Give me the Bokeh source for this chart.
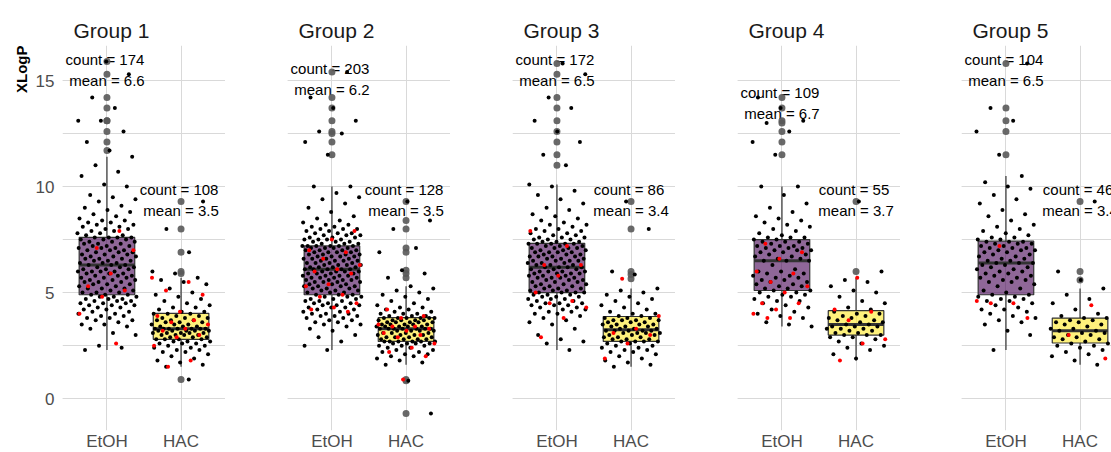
import numpy as np
from bokeh.plotting import figure
from bokeh.layouts import row
from bokeh.models import Range1d, FixedTicker, SingleIntervalTicker, Title
from bokeh.core.properties import value
from bokeh.embed import file_html
from bokeh.resources import INLINE


def vals(s):
    return [float(t) for t in s.split()]


# ---- data -------------------------------------------------------------
groups = ["Group 1", "Group 2", "Group 3", "Group 4", "Group 5"]
solvents = ["EtOH", "HAC"]

etoh_count = [174, 203, 172, 109, 104]
etoh_mean = [6.6, 6.2, 6.5, 6.7, 6.5]
hac_count = [108, 128, 86, 55, 46]
hac_mean = [3.5, 3.5, 3.4, 3.7, 3.4]

# height (XLogP) at which each count/mean note is centred
etoh_label_y = [15.5, 15.05, 15.5, 13.95, 15.5]
hac_label_y = [9.35, 9.35, 9.35, 9.35, 9.35]

# XLogP of every compound; *_red are the highlighted compounds
g1_etoh = vals("""
2.3 2.4 2.5 3.0 3.1 3.3 3.4 3.5 3.5 3.6 3.7 3.7 3.8 3.8 3.9 3.9 4.0 4.0 4.1 4.1
4.2 4.2 4.3 4.3 4.4 4.4 4.4 4.5 4.5 4.5 4.6 4.6 4.6 4.7 4.7 4.7 4.8 4.8 4.8 4.9
4.9 4.9 5.0 5.0 5.0 5.1 5.1 5.2 5.2 5.2 5.3 5.3 5.4 5.4 5.4 5.5 5.5 5.5 5.6 5.6
5.6 5.7 5.7 5.7 5.8 5.8 5.8 5.9 5.9 5.9 6.0 6.0 6.0 6.0 6.1 6.1 6.1 6.2 6.2 6.2
6.3 6.3 6.3 6.4 6.4 6.4 6.5 6.5 6.5 6.6 6.6 6.6 6.7 6.7 6.7 6.8 6.8 6.8 6.9 6.9
6.9 7.0 7.0 7.0 7.1 7.1 7.1 7.2 7.2 7.2 7.3 7.3 7.3 7.4 7.4 7.4 7.5 7.5 7.5 7.6
7.6 7.6 7.6 7.7 7.7 7.8 7.8 7.9 7.9 8.0 8.0 8.1 8.1 8.2 8.2 8.3 8.3 8.4 8.4 8.5
8.6 8.7 8.8 8.9 9.0 9.1 9.3 9.4 9.5 9.6 10.0 10.1 10.5 10.7 11.0 11.4
11.7 12.1 12.6 13.1 13.1 13.7 14.2 15.3 15.9
""")
g1_etoh_red = vals("7.9 7.1 7.0 5.9 5.3 5.1 4.8 4.0 2.6")

g1_hac = vals("""
0.9 1.5 1.6 1.7 1.8 1.9 2.0 2.1 2.2 2.2 2.3 2.3 2.4 2.4 2.5 2.5 2.6 2.6 2.6 2.7
2.7 2.7 2.8 2.8 2.8 2.8 2.9 2.9 2.9 3.0 3.0 3.0 3.0 3.1 3.1 3.1 3.1 3.1 3.2 3.2
3.2 3.2 3.2 3.3 3.3 3.3 3.3 3.3 3.3 3.3 3.4 3.4 3.4 3.5 3.5 3.5 3.6 3.6 3.6 3.7
3.7 3.7 3.8 3.8 3.8 3.9 3.9 4.0 4.0 4.0 4.1 4.1 4.2 4.3 4.3 4.4 4.5 4.6 4.7 4.8
4.9 5.0 5.2 5.4 5.5 5.6 5.7 5.9 6.0 6.9 8.0 9.3
""")
g1_hac_red = vals("5.7 5.5 5.1 4.9 4.1 3.9 3.7 3.6 3.5 3.3 3.2 3.0 2.9 2.5 1.8 1.5")

g2_etoh = vals("""
2.3 2.5 2.7 2.9 3.0 3.2 3.3 3.4 3.5 3.5 3.6 3.6 3.7 3.7 3.8 3.8 3.9 3.9 3.9 4.0
4.0 4.0 4.1 4.1 4.2 4.2 4.3 4.3 4.3 4.4 4.4 4.4 4.5 4.5 4.5 4.6 4.6 4.6 4.7 4.7
4.7 4.8 4.8 4.8 4.9 4.9 4.9 5.0 5.0 5.0 5.1 5.1 5.1 5.2 5.2 5.2 5.3 5.3 5.3 5.3
5.4 5.4 5.4 5.5 5.5 5.5 5.5 5.6 5.6 5.6 5.6 5.7 5.7 5.7 5.7 5.8 5.8 5.8 5.8 5.9
5.9 5.9 5.9 6.0 6.0 6.0 6.0 6.1 6.1 6.1 6.1 6.1 6.2 6.2 6.2 6.2 6.3 6.3 6.3 6.3
6.4 6.4 6.4 6.4 6.5 6.5 6.5 6.5 6.6 6.6 6.6 6.6 6.7 6.7 6.7 6.7 6.8 6.8 6.8 6.8
6.9 6.9 6.9 6.9 7.0 7.0 7.0 7.0 7.1 7.1 7.1 7.1 7.2 7.2 7.2 7.2 7.2 7.2 7.3 7.3
7.3 7.4 7.4 7.4 7.5 7.5 7.5 7.5 7.6 7.6 7.6 7.7 7.7 7.7 7.8 7.8 7.8 7.9 7.9 8.0
8.0 8.0 8.1 8.1 8.2 8.2 8.3 8.4 8.5 8.6 8.8 9.0 9.2 9.4 9.5 9.7 10.0 10.0
11.5 12.1 12.5 12.6 13.1 13.7 14.2 15.4
""")
g2_etoh_red = vals("7.9 7.5 7.0 6.9 6.6 6.3 6.1 6.0 5.9 5.4 5.3 4.9 4.8 4.5 4.3 4.2 4.1")

g2_hac = vals("""
-0.7 0.85 1.6 1.7 1.8 1.9 2.0 2.0 2.1 2.1 2.2 2.2 2.3 2.3 2.4 2.4 2.5 2.5 2.5 2.6
2.6 2.6 2.6 2.7 2.7 2.7 2.7 2.7 2.7 2.8 2.8 2.8 2.8 2.9 2.9 2.9 2.9 3.0 3.0 3.0
3.0 3.1 3.1 3.1 3.1 3.2 3.2 3.2 3.2 3.3 3.3 3.3 3.3 3.3 3.3 3.3 3.4 3.4 3.4 3.4
3.4 3.5 3.5 3.5 3.5 3.5 3.6 3.6 3.6 3.6 3.6 3.7 3.7 3.7 3.7 3.7 3.8 3.8 3.8 3.8
3.8 3.8 3.9 3.9 3.9 4.0 4.0 4.0 4.1 4.1 4.2 4.2 4.3 4.3 4.4 4.5 4.6 4.7 4.8 4.9
5.0 5.1 5.2 5.3 5.7 5.9 6.05 6.9 7.1 8.0 8.4 9.3
""")
g2_hac_red = vals("4.2 3.9 3.8 3.5 3.4 3.4 3.3 3.2 3.1 3.0 2.9 2.6 2.4 2.2 2.0 0.9")

g3_etoh = vals("""
2.3 2.6 2.7 2.8 3.0 3.3 3.5 3.6 3.7 3.8 3.9 4.0 4.0 4.1 4.1 4.2 4.2 4.3 4.3 4.4
4.4 4.4 4.5 4.5 4.5 4.6 4.6 4.7 4.7 4.7 4.8 4.8 4.8 4.9 4.9 4.9 5.0 5.0 5.0 5.0
5.1 5.1 5.1 5.2 5.2 5.2 5.3 5.3 5.3 5.4 5.4 5.4 5.5 5.5 5.5 5.6 5.6 5.6 5.7 5.7
5.7 5.7 5.8 5.8 5.8 5.9 5.9 5.9 5.9 6.0 6.0 6.0 6.0 6.1 6.1 6.1 6.2 6.2 6.2 6.2
6.3 6.3 6.3 6.4 6.4 6.4 6.5 6.5 6.5 6.5 6.6 6.6 6.6 6.7 6.7 6.7 6.7 6.8 6.8 6.8
6.9 6.9 6.9 6.9 7.0 7.0 7.0 7.1 7.1 7.1 7.1 7.2 7.2 7.2 7.3 7.3 7.3 7.3 7.3 7.4
7.4 7.4 7.5 7.5 7.5 7.6 7.6 7.6 7.7 7.7 7.8 7.8 7.9 7.9 8.0 8.0 8.1 8.2 8.2 8.3
8.4 8.5 8.6 8.7 8.9 9.0 9.2 9.4 9.6 9.8 10.0 10.1
11.0 11.5 12.1 12.6 13.1 13.7 14.2 15.3 15.8
""")
g3_etoh_red = vals("7.9 7.2 6.3 6.3 5.8 5.0 4.6 4.5 4.3 3.8 2.9")

g3_hac = vals("""
1.5 1.6 1.7 1.8 1.9 2.0 2.1 2.2 2.2 2.3 2.3 2.4 2.4 2.5 2.5 2.6 2.6 2.7 2.7 2.7
2.7 2.8 2.8 2.8 2.9 2.9 2.9 3.0 3.0 3.0 3.1 3.1 3.1 3.1 3.2 3.2 3.2 3.2 3.2 3.3
3.3 3.3 3.4 3.4 3.4 3.5 3.5 3.5 3.5 3.6 3.6 3.6 3.7 3.7 3.7 3.7 3.8 3.8 3.8 3.9
3.9 4.0 4.0 4.1 4.2 4.3 4.4 4.5 4.6 4.7 4.8 4.9 5.0 5.1 5.2 5.86 6.0 8.0 9.3
""")
g3_hac_red = vals("5.65 3.9 3.3 3.1 3.0 2.6 1.9")

g4_etoh = vals("""
3.4 3.5 3.6 3.8 3.9 4.0 4.1 4.2 4.3 4.4 4.5 4.6 4.6 4.7 4.8 4.8 4.9 4.9 5.0 5.0
5.1 5.1 5.2 5.2 5.3 5.3 5.4 5.4 5.5 5.5 5.6 5.6 5.7 5.7 5.8 5.8 5.9 5.9 6.0 6.0
6.1 6.3 6.5 6.5 6.5 6.6 6.6 6.7 6.7 6.8 6.8 6.9 6.9 7.0 7.0 7.0 7.1 7.1 7.1 7.2
7.2 7.2 7.3 7.3 7.4 7.4 7.4 7.5 7.5 7.6 7.6 7.6 7.7 7.8 7.9 8.0 8.1 8.2 8.3 8.4
8.5 8.6 8.8 9.0 9.2 9.6 10.0 10.0 11.5 12.1 12.6 13.0 13.1 13.7 14.2
""")
g4_etoh_red = vals("7.3 6.9 6.6 6.0 5.9 5.5 5.3 5.0 4.5 4.5 4.2 4.0 3.8 3.8")

g4_hac = vals("""
1.9 2.1 2.3 2.4 2.5 2.6 2.7 2.8 2.9 2.9 3.0 3.0 3.0 3.1 3.1 3.2 3.2 3.3 3.3 3.3
3.4 3.4 3.4 3.5 3.5 3.6 3.6 3.7 3.7 3.8 3.8 3.9 3.9 4.0 4.0 4.1 4.2 4.3 4.5 4.6
4.8 5.0 5.1 5.3 5.5 5.6 6.0 9.3
""")
g4_hac_red = vals("5.7 4.2 4.1 3.7 2.8 2.6 1.8")

g5_etoh = vals("""
2.3 3.0 3.2 3.5 3.6 3.7 3.8 3.9 4.0 4.1 4.2 4.2 4.3 4.4 4.5 4.6 4.6 4.7 4.7 4.8
4.8 4.9 4.9 5.0 5.1 5.2 5.3 5.4 5.5 5.5 5.6 5.6 5.7 5.7 5.8 5.8 5.9 5.9 6.0 6.0
6.1 6.1 6.2 6.2 6.3 6.3 6.4 6.4 6.4 6.5 6.5 6.6 6.6 6.7 6.7 6.8 6.8 6.9 6.9 7.0
7.0 7.0 7.1 7.1 7.1 7.2 7.2 7.3 7.3 7.3 7.4 7.4 7.4 7.5 7.5 7.6 7.6 7.7 7.8 7.9
8.0 8.1 8.2 8.4 8.6 8.7 8.9 9.2 9.4 9.6 9.9 10.0 10.2 10.5 11.5 12.6 13.1 13.7 15.8
""")
g5_etoh_red = vals("7.2 4.6 4.5 4.5 3.8")

g5_hac = vals("""
1.6 1.8 2.0 2.1 2.2 2.3 2.4 2.5 2.5 2.6 2.6 2.7 2.8 2.8 2.9 2.9 3.0 3.0 3.1 3.1
3.2 3.2 3.3 3.3 3.4 3.5 3.5 3.6 3.6 3.7 3.7 3.8 3.8 3.9 4.0 4.2 4.5 4.7 4.9 5.2
5.6 6.0 9.3
""")
g5_hac_red = vals("4.4 3.0 1.9")

etoh_sets = [(g1_etoh, g1_etoh_red), (g2_etoh, g2_etoh_red), (g3_etoh, g3_etoh_red),
             (g4_etoh, g4_etoh_red), (g5_etoh, g5_etoh_red)]
hac_sets = [(g1_hac, g1_hac_red), (g2_hac, g2_hac_red), (g3_hac, g3_hac_red),
            (g4_hac, g4_hac_red), (g5_hac, g5_hac_red)]

# ---- style --------------------------------------------------------------
FILL = {"EtOH": "#440154", "HAC": "#FDE725"}
EDGE = "#333333"
GRID = "#d9d9d9"
TICK_TXT = "#4d4d4d"
SANS = "Liberation Sans"

PX_PER_UNIT = 163 / 2.2      # panel width for the 0.4 .. 2.6 category span
BOX_HALF = 0.375
JITTER = 0.4


def jitter(n, phase):
    """Spread points sideways with a low-discrepancy sequence."""
    i = np.arange(n)
    return ((i * 0.6180339887 + phase) % 1.0 - 0.5) * 2 * JITTER


def box_stats(v):
    v = np.asarray(v)
    q1, med, q3 = np.percentile(v, [25, 50, 75])
    iqr = q3 - q1
    lo_f, hi_f = q1 - 1.5 * iqr, q3 + 1.5 * iqr
    inside = v[(v >= lo_f) & (v <= hi_f)]
    outl = v[(v < lo_f) | (v > hi_f)]
    return q1, med, q3, inside.min(), inside.max(), outl


def panel(k):
    first = k == 0
    last = k == len(groups) - 1
    fw = 150 if last else 163
    p = figure(
        frame_width=fw, frame_height=385,
        x_range=Range1d(0.4, 0.4 + fw / PX_PER_UNIT),
        y_range=Range1d(-1.5, 16.65),
        min_border_left=61 if last else 62, min_border_right=0,
        min_border_top=45, min_border_bottom=22,
        toolbar_location=None, output_backend="svg",
        title=groups[k],
    )
    p.outline_line_color = None
    p.background_fill_color = "white"
    p.border_fill_color = "white"

    p.title.text_font = SANS
    p.title.text_font_size = "21px"
    p.title.text_font_style = "normal"
    p.title.text_color = "#1a1a1a"
    p.title.offset = 11
    p.title.standoff = 8

    yt = SingleIntervalTicker(interval=5, num_minor_ticks=2)
    xt = FixedTicker(ticks=[1, 2])
    p.xaxis.ticker = xt
    p.yaxis.ticker = yt
    p.xgrid.ticker = xt
    p.ygrid.ticker = yt
    p.grid.grid_line_color = GRID
    p.grid.grid_line_width = 1
    p.ygrid.minor_grid_line_color = GRID
    p.ygrid.minor_grid_line_width = 1

    p.xaxis.major_label_overrides = {1: solvents[0], 2: solvents[1]}
    for ax in p.axis:
        ax.axis_line_color = None
        ax.major_tick_line_color = None
        ax.minor_tick_line_color = None
        ax.major_tick_out = 0
        ax.major_tick_in = 0
        ax.minor_tick_out = 0
        ax.major_label_text_font = SANS
        ax.major_label_text_font_size = "17px"
        ax.major_label_text_color = TICK_TXT
    p.xaxis.major_label_standoff = 1
    p.yaxis.major_label_standoff = 8
    if first:
        p.add_layout(Title(text="XLogP", align="right", text_font=SANS,
                           text_font_size="15px", text_font_style="bold",
                           text_color="black", standoff=6), "left")
    else:
        p.yaxis.visible = False

    notes = [(etoh_count[k], etoh_mean[k], etoh_label_y[k]),
             (hac_count[k], hac_mean[k], hac_label_y[k])]
    for j, (n, m, ly) in enumerate(notes):
        pos = j + 1
        p.text(x=[pos], y=[ly], text=[f"count = {n}"], text_align="center",
               text_baseline="middle", text_font=value(SANS), text_font_size="15px",
               text_color="black", y_offset=-10.5, x_offset=-2)
        p.text(x=[pos], y=[ly], text=[f"mean = {m}"], text_align="center",
               text_baseline="middle", text_font=value(SANS), text_font_size="15px",
               text_color="black", y_offset=10.5)

    for j, (black, red) in enumerate([etoh_sets[k], hac_sets[k]]):
        pos = j + 1
        q1, med, q3, wlo, whi, outl = box_stats(black + red)
        p.segment(x0=[pos, pos], y0=[q3, q1], x1=[pos, pos], y1=[whi, wlo],
                  line_color=EDGE, line_width=1.2)
        p.quad(left=[pos - BOX_HALF], right=[pos + BOX_HALF], bottom=[q1], top=[q3],
               fill_color=FILL[solvents[j]], fill_alpha=0.6,
               line_color=EDGE, line_width=1.2)
        p.segment(x0=[pos - BOX_HALF], y0=[med], x1=[pos + BOX_HALF], y1=[med],
                  line_color=EDGE, line_width=3)
        if len(outl):
            p.scatter(x=[pos] * len(outl), y=list(outl), size=7,
                      fill_color="#595959", fill_alpha=0.9, line_color=None)
        p.scatter(x=pos + jitter(len(black), 0.13 + 0.29 * k + 0.5 * j), y=black,
                  size=4, fill_color="black", line_color=None)
        p.scatter(x=pos + jitter(len(red), 0.71 + 0.17 * k + 0.3 * j), y=red,
                  size=4, fill_color="#ff0000", line_color=None)
    return p


layout = row([panel(k) for k in range(len(groups))], spacing=0)
open("out.html", "w").write(file_html(layout, INLINE))
